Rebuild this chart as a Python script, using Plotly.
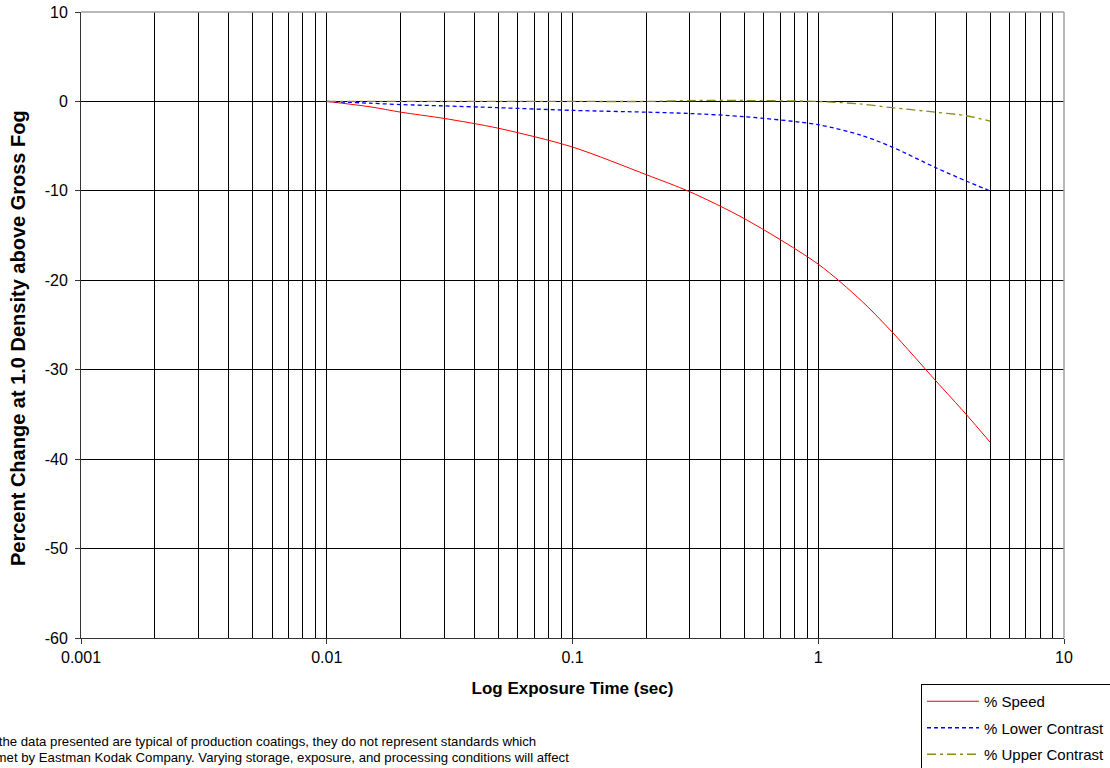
import plotly.graph_objects as go

# Exposure times (sec) at which the reciprocity changes were measured
exposure_time = [0.01, 0.015, 0.02, 0.03, 0.05, 0.1, 0.2, 0.3, 0.5, 1, 1.5, 2, 3, 4, 5]

# Percent change at 1.0 density above gross fog
speed_pct = [0, -0.6, -1.2, -1.9, -3.0, -5.1, -8.2, -10.1, -13.1, -18.2, -22.3, -25.8, -31.2, -35.0, -38.1]
lower_contrast_pct = [0, -0.2, -0.35, -0.5, -0.7, -1.0, -1.2, -1.35, -1.7, -2.6, -3.8, -5.1, -7.4, -8.9, -10.0]
upper_contrast_pct = [0, 0, 0, 0, 0, 0, 0, 0.1, 0.1, 0, -0.3, -0.7, -1.2, -1.6, -2.2]

x_major_ticks = [0.001, 0.01, 0.1, 1, 10]
x_major_labels = ["0.001", "0.01", "0.1", "1", "10"]
x_minor_ticks = [m * d for d in [0.001, 0.01, 0.1, 1] for m in range(2, 10)]
y_ticks = [10, 0, -10, -20, -30, -40, -50, -60]
y_labels = ["10", "0", "-10", "-20", "-30", "-40", "-50", "-60"]

notice_lines = [
    "NOTICE: While the data presented are typical of production coatings, they do not represent standards which",
    "must be met by Eastman Kodak Company. Varying storage, exposure, and processing conditions will affect",
    "the right to change and improve the product characteristics at any time.",
]

FONT = "Liberation Sans, Arial, sans-serif"

fig = go.Figure()
fig.add_trace(go.Scatter(x=exposure_time, y=speed_pct, mode="lines", name="% Speed", legendgroup="s",
                         line=dict(color="#ff0000", width=1, shape="spline", smoothing=0.8)))
fig.add_trace(go.Scatter(x=exposure_time, y=lower_contrast_pct, mode="lines", name="% Lower Contrast",
                         legendgroup="l",
                         line=dict(color="#0000ff", width=1.3, dash="4px,3px", shape="spline", smoothing=0.8)))
fig.add_trace(go.Scatter(x=exposure_time, y=upper_contrast_pct, mode="lines", name="% Upper Contrast",
                         legendgroup="u",
                         line=dict(color="#8c8c14", width=1.3, dash="9px,4px,3px,4px", shape="spline", smoothing=0.8)))

fig.update_xaxes(
    type="log", range=[-3, 1],
    tickvals=x_major_ticks, ticktext=x_major_labels,
    ticks="outside", ticklen=5, tickcolor="#333333",
    showgrid=True, gridcolor="#000000", gridwidth=1,
    minor=dict(tickvals=x_minor_ticks, showgrid=True, gridcolor="#000000", gridwidth=1, ticks=""),
    showline=True, linecolor="#333333", linewidth=1,
    zeroline=False,
    tickfont=dict(family=FONT, size=16, color="#000000"),
    title=dict(text="<b>Log Exposure Time (sec)</b>", standoff=16,
               font=dict(family=FONT, size=17, color="#000000")),
)
fig.update_yaxes(
    range=[-60, 10], tickvals=y_ticks, ticktext=y_labels,
    ticks="outside", ticklen=5, tickcolor="#333333",
    showgrid=True, gridcolor="#000000", gridwidth=1,
    showline=True, linecolor="#333333", linewidth=1,
    zeroline=False,
    ticklabelstandoff=4,
    tickfont=dict(family=FONT, size=16, color="#000000"),
)

# vertical axis title, placed as rotated text
fig.add_annotation(
    text="<b>Percent Change at 1.0 Density above Gross Fog</b>",
    xref="paper", yref="paper",
    x=(18 - 81) / 983, xanchor="center",
    y=(638 - 338) / 626, yanchor="middle",
    textangle=-90, showarrow=False,
    font=dict(family=FONT, size=20, color="#000000"),
)

# light grey frame along the top and right of the plot area
fig.add_shape(type="line", xref="paper", yref="paper", x0=0, x1=1, y0=1, y1=1,
              line=dict(color="#a0a0a0", width=1.5))
fig.add_shape(type="line", xref="paper", yref="paper", x0=1, x1=1, y0=0, y1=1,
              line=dict(color="#a0a0a0", width=1.5))

for i, (line_text, x_end) in enumerate(zip(notice_lines, [538, 571, 562])):
    fig.add_annotation(
        text=line_text, xref="paper", yref="paper",
        x=(x_end - 81) / 983, xanchor="right",
        y=(638 - (741 + 16 * i)) / 626, yanchor="middle",
        showarrow=False, font=dict(family=FONT, size=13.2, color="#000000"),
    )

fig.update_layout(
    width=1110, height=768,
    margin=dict(l=81, r=46, t=12, b=130, autoexpand=False),
    paper_bgcolor="#ffffff", plot_bgcolor="#ffffff",
    showlegend=True,
    legend=dict(
        x=(921 - 81) / 983, xanchor="left",
        y=(638 - 684) / 626, yanchor="top",
        bgcolor="#ffffff", bordercolor="#000000", borderwidth=1,
        font=dict(family=FONT, size=15, color="#000000"),
        itemwidth=52, tracegroupgap=4,
    ),
)

fig.write_html("out.html")
